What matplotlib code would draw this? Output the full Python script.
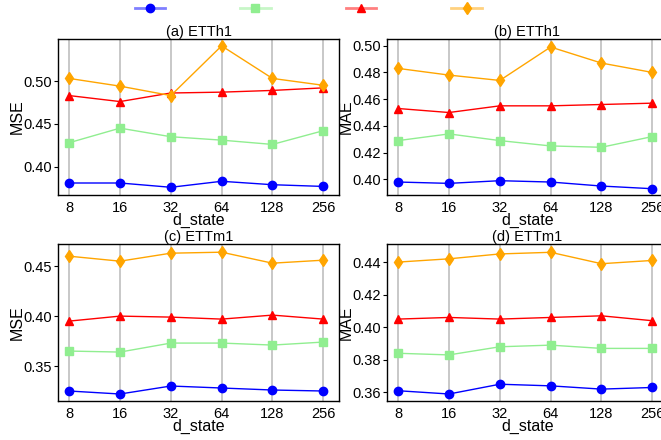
import matplotlib
matplotlib.use("Agg")
import matplotlib.pyplot as plt
from matplotlib.lines import Line2D

plt.rcParams['font.family'] = ['Liberation Sans', 'DejaVu Sans']

d_state = ['8', '16', '32', '64', '128', '256']

# (a) ETTh1 MSE
a_blue = [0.381, 0.381, 0.376, 0.383, 0.379, 0.377]
a_green = [0.428, 0.445, 0.435, 0.431, 0.426, 0.442]
a_red = [0.483, 0.476, 0.486, 0.487, 0.489, 0.492]
a_orange = [0.503, 0.494, 0.483, 0.541, 0.503, 0.495]
# (b) ETTh1 MAE
b_blue = [0.398, 0.397, 0.399, 0.398, 0.395, 0.393]
b_green = [0.429, 0.434, 0.429, 0.425, 0.424, 0.432]
b_red = [0.453, 0.450, 0.455, 0.455, 0.456, 0.457]
b_orange = [0.483, 0.478, 0.474, 0.499, 0.487, 0.480]
# (c) ETTm1 MSE
c_blue = [0.325, 0.322, 0.330, 0.328, 0.326, 0.325]
c_green = [0.365, 0.364, 0.373, 0.373, 0.371, 0.374]
c_red = [0.395, 0.400, 0.399, 0.397, 0.401, 0.397]
c_orange = [0.460, 0.455, 0.463, 0.464, 0.453, 0.456]
# (d) ETTm1 MAE
d_blue = [0.361, 0.359, 0.365, 0.364, 0.362, 0.363]
d_green = [0.384, 0.383, 0.388, 0.389, 0.387, 0.387]
d_red = [0.405, 0.406, 0.405, 0.406, 0.407, 0.404]
d_orange = [0.440, 0.442, 0.445, 0.446, 0.439, 0.441]

colors = ['blue', 'lightgreen', 'red', 'orange']
markers = ['o', 's', '^', 'd']

panels = [
    ('(a) ETTh1', 'MSE', [a_blue, a_green, a_red, a_orange], (0.367, 0.549), [0.40, 0.45, 0.50]),
    ('(b) ETTh1', 'MAE', [b_blue, b_green, b_red, b_orange], (0.3883, 0.505), [0.40, 0.42, 0.44, 0.46, 0.48, 0.50]),
    ('(c) ETTm1', 'MSE', [c_blue, c_green, c_red, c_orange], (0.315, 0.4722), [0.35, 0.40, 0.45]),
    ('(d) ETTm1', 'MAE', [d_blue, d_green, d_red, d_orange], (0.3547, 0.4511), [0.36, 0.38, 0.40, 0.42, 0.44]),
]

W, H = 661, 440
fig = plt.figure(figsize=(W / 100, H / 100), dpi=100)
boxes = [(58, 39, 339, 195), (387, 39, 668, 195), (58, 244, 339, 401), (387, 244, 668, 401)]

x = list(range(len(d_state)))
for (title, ylabel, series, ylim, yticks), (l, t, r, b) in zip(panels, boxes):
    ax = fig.add_axes([l / W, (H - b) / H, (r - l) / W, (b - t) / H])
    for vals, c, m in zip(series, colors, markers):
        ax.plot(x, vals, color=c, marker=m, markersize=6, linewidth=1.0, zorder=3)
    ax.set_xticks(x)
    ax.set_xticklabels(d_state)
    ax.set_xlim(-0.22, 5.31)
    ax.set_ylim(*ylim)
    ax.set_yticks(yticks)
    ax.set_yticklabels([f'{v:.2f}' for v in yticks])
    ax.grid(axis='x', color='#c4c4c4', linewidth=1.3, zorder=0)
    ax.set_axisbelow(True)
    ax.set_title(title, fontsize=10.5, pad=2)
    ax.set_ylabel(ylabel, fontsize=11.5, labelpad=-1)
    ax.set_xlabel('d_state', fontsize=11.5, labelpad=-1)
    ax.tick_params(labelsize=10.5, length=3, width=0.8, pad=1.5)
    ax.tick_params(axis='x', length=0, pad=4)
    for s in ax.spines.values():
        s.set_linewidth(1.0)
        s.set_color('black')

handles = []
for c, m in zip(colors, markers):
    ln = Line2D([], [], color=c, linewidth=2, alpha=0.5)
    mk = Line2D([], [], color=c, marker=m, markersize=6, linestyle='none')
    handles.append((ln, mk))
fig.legend(handles, ['', '', '', ''], loc='upper center', bbox_to_anchor=(311 / W, 1.025),
           ncol=4, frameon=False, handlelength=2.2, columnspacing=5.0, handletextpad=0.4,
           fontsize=10)

fig.savefig('out.png', dpi=100)
